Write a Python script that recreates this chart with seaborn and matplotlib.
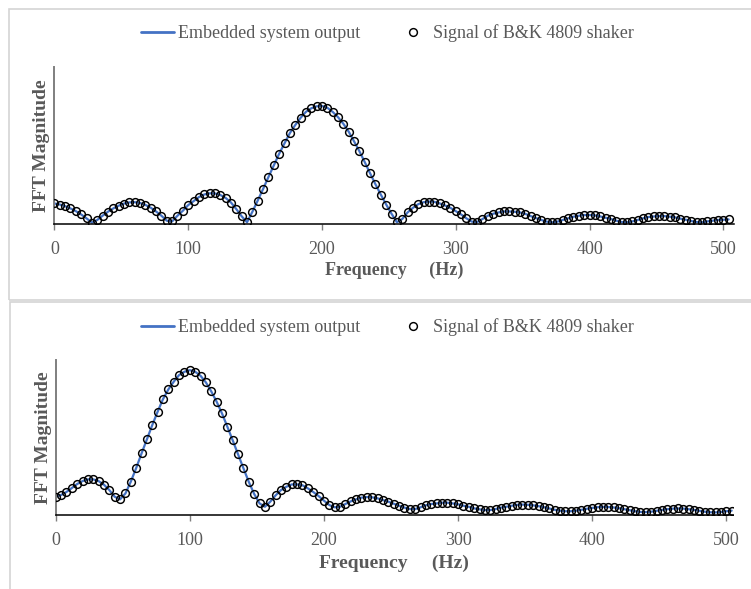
import matplotlib
matplotlib.use("Agg")
import matplotlib.pyplot as plt
from matplotlib.lines import Line2D
from matplotlib.patches import Rectangle
import seaborn as sns
import pandas as pd

# Frequency grid (Hz) shared by both panels
freq_hz = [0, 4, 8, 12, 16, 20, 24, 28, 32, 36, 40, 44, 48, 52, 56, 60, 64, 68, 72, 76,
           80, 84, 88, 92, 96, 100, 104, 108, 112, 116, 120, 124, 128, 132, 136, 140, 144, 148, 152, 156,
           160, 164, 168, 172, 176, 180, 184, 188, 192, 196, 200, 204, 208, 212, 216, 220, 224, 228, 232, 236,
           240, 244, 248, 252, 256, 260, 264, 268, 272, 276, 280, 284, 288, 292, 296, 300, 304, 308, 312, 316,
           320, 324, 328, 332, 336, 340, 344, 348, 352, 356, 360, 364, 368, 372, 376, 380, 384, 388, 392, 396,
           400, 404, 408, 412, 416, 420, 424, 428, 432, 436, 440, 444, 448, 452, 456, 460, 464, 468, 472, 476,
           480, 484, 488, 492, 496, 500, 504]

# Top panel (200 Hz excitation), relative FFT magnitude
top_magnitude = [17.4, 16.5, 15.1, 13.2, 10.9, 8.1, 4.8, 1.2, 3.4, 7.0,
                 10.4, 13.2, 15.5, 17.3, 18.3, 18.5, 17.8, 16.2, 13.8, 10.6,
                 7.0, 2.8, 2.2, 7.0, 11.2, 16.0, 19.3, 22.8, 25.0, 26.0,
                 25.9, 24.6, 22.1, 18.2, 12.6, 6.5, 1.5, 10.4, 19.9, 29.7,
                 39.8, 49.6, 59.5, 68.3, 77.0, 83.8, 89.9, 95.0, 98.0, 99.7,
                 100.0, 98.5, 95.0, 90.5, 84.9, 78.2, 70.0, 61.6, 52.4, 42.9,
                 33.6, 24.9, 16.5, 8.7, 1.5, 4.2, 9.8, 13.7, 16.8, 18.5,
                 19.0, 18.8, 17.4, 15.7, 13.7, 10.9, 8.1, 4.8, 2.0, 1.7,
                 4.2, 7.0, 8.7, 9.8, 10.6, 10.6, 10.4, 9.8, 8.6, 6.7,
                 5.0, 3.4, 2.0, 1.4, 2.0, 3.4, 4.8, 6.2, 7.0, 7.6,
                 7.6, 7.3, 6.4, 5.3, 4.2, 2.8, 1.7, 1.4, 2.2, 3.4,
                 4.8, 5.9, 6.4, 6.7, 6.7, 6.2, 5.6, 4.5, 3.6, 2.5,
                 1.7, 1.4, 2.2, 2.8, 3.4, 3.6, 3.9]

# Bottom panel (100 Hz excitation), relative FFT magnitude
bottom_magnitude = [12.6, 13.8, 15.9, 18.6, 21.4, 23.4, 24.6, 24.6, 23.4, 20.9,
                    17.2, 12.6, 10.8, 14.9, 23.0, 32.4, 42.5, 52.2, 62.1, 71.3,
                    80.0, 86.7, 92.0, 96.6, 98.9, 100.0, 98.9, 96.1, 91.5, 85.3,
                    78.2, 70.1, 60.9, 51.5, 41.8, 32.2, 22.8, 14.5, 8.0, 5.7,
                    9.2, 13.6, 17.2, 19.5, 21.1, 21.1, 20.5, 18.4, 15.9, 13.1,
                    9.9, 6.9, 5.3, 5.7, 7.6, 9.4, 10.8, 12.0, 12.4, 12.2,
                    11.5, 10.3, 9.2, 7.8, 6.4, 5.1, 4.1, 4.1, 5.3, 6.7,
                    7.6, 8.0, 8.5, 8.5, 8.0, 7.4, 6.4, 5.7, 4.6, 3.9,
                    3.4, 3.4, 4.1, 5.1, 5.7, 6.4, 7.0, 7.2, 7.1, 6.7,
                    6.1, 5.4, 4.5, 3.6, 3.0, 2.6, 2.6, 3.0, 3.6, 4.3,
                    4.9, 5.4, 5.6, 5.5, 5.2, 4.7, 4.0, 3.3, 2.6, 2.1,
                    2.0, 2.3, 2.9, 3.5, 4.0, 4.4, 4.5, 4.4, 4.0, 3.5,
                    2.9, 2.3, 1.9, 1.8, 2.1, 2.6, 3.0]

x_ticks = [0, 100, 200, 300, 400, 500]
series_labels = ["Embedded system output", "Signal of B&K 4809 shaker"]
x_label = "Frequency     (Hz)"
y_label = "FFT Magnitude"

sns.set_theme(style="white")
plt.rcParams["font.family"] = ["Liberation Serif", "DejaVu Serif"]

LINE_BLUE = "#4472C4"
GREY_TXT = "#595959"
MS = 5.6
MEW = 1.05

fig = plt.figure(figsize=(7.51, 5.89), dpi=100)

# Panel frames (light grey chart-area borders)
fig.patches.append(Rectangle((8.5 / 751, 1 - 300 / 589), 1.2, (300 - 9) / 589,
                             transform=fig.transFigure, fill=False,
                             edgecolor="#D4D4D4", linewidth=1.2))
fig.patches.append(Rectangle((10 / 751, -0.2), 1.2, 0.2 + 1 - 302 / 589,
                             transform=fig.transFigure, fill=False,
                             edgecolor="#D4D4D4", linewidth=1.2))

panels = [
    dict(mag=top_magnitude, rect=[54.4 / 751, 1 - 224 / 589, (734 - 54.4) / 751, (224 - 67) / 589],
         ylim=133, xlim=508, legend_y=1 - 33 / 589, xlabel_y=1 - 270.5 / 589,
         ylabel_xy=(42 / 751, 1 - 145.5 / 589), xl_size=13),
    dict(mag=bottom_magnitude, rect=[55.7 / 751, 1 - 515 / 589, (733 - 55.7) / 751, (515 - 360) / 589],
         ylim=107, xlim=505, legend_y=1 - 327 / 589, xlabel_y=1 - 563 / 589,
         ylabel_xy=(43 / 751, 1 - 437.5 / 589), xl_size=14),
]

for p in panels:
    ax = fig.add_axes(p["rect"])
    df = pd.DataFrame({"freq": freq_hz, "mag": p["mag"]})
    sns.lineplot(data=df, x="freq", y="mag", ax=ax, color=LINE_BLUE, linewidth=1.6, zorder=2)
    sns.lineplot(data=df, x="freq", y="mag", ax=ax, linestyle="none", marker="o",
                 markersize=MS, markerfacecolor="none", markeredgecolor="black",
                 markeredgewidth=MEW, zorder=3)
    ax.set_xlim(0, p["xlim"])
    ax.set_ylim(0, p["ylim"])
    ax.set_xticks(x_ticks)
    ax.set_xticklabels([str(t) for t in x_ticks])
    ax.set_yticks([])
    ax.set_xlabel("")
    ax.set_ylabel("")
    for s in ["top", "right"]:
        ax.spines[s].set_visible(False)
    ax.spines["bottom"].set_color("black")
    ax.spines["bottom"].set_linewidth(1.1)
    ax.spines["left"].set_color("#7F7F7F")
    ax.spines["left"].set_linewidth(1.4)
    ax.tick_params(axis="x", direction="out", length=4, width=1, color="#7F7F7F",
                   labelsize=13, labelcolor=GREY_TXT, pad=8, bottom=True)
    ax.patch.set_alpha(0)

    handles = [Line2D([], [], color=LINE_BLUE, linewidth=2),
               Line2D([], [], linestyle="none", marker="o", markersize=MS,
                      markerfacecolor="none", markeredgecolor="black", markeredgewidth=MEW)]
    fig.legend(handles, series_labels, loc="center", bbox_to_anchor=(0.516, p["legend_y"]),
               ncol=2, frameon=False, fontsize=13, handlelength=1.85, handletextpad=0.2,
               columnspacing=2.0, labelcolor=GREY_TXT)

    fig.text(0.5 * (p["rect"][0] * 2 + p["rect"][2]), p["xlabel_y"], x_label, ha="center", va="center",
             fontsize=p["xl_size"], fontweight="bold", color=GREY_TXT)
    fig.text(p["ylabel_xy"][0], p["ylabel_xy"][1], y_label, ha="center", va="center",
             rotation=90, fontsize=14, fontweight="bold", color=GREY_TXT)

fig.savefig("out.png", dpi=100)
